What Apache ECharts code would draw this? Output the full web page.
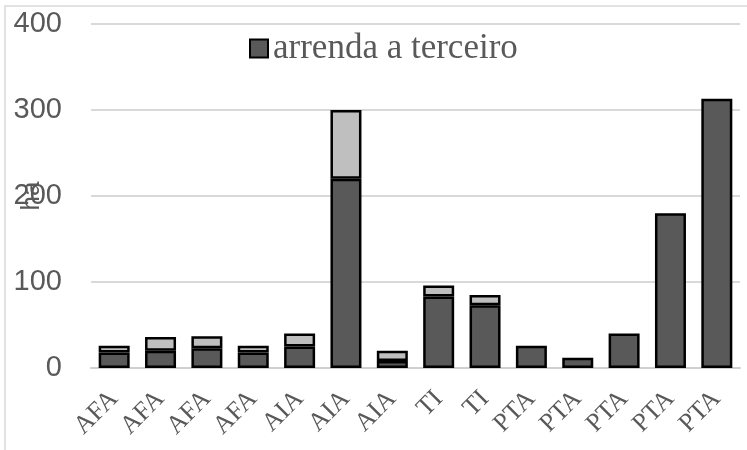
<!DOCTYPE html>
<html>
<head>
<meta charset="utf-8">
<script src="https://cdn.jsdelivr.net/npm/echarts@6/dist/echarts.min.js"></script>
<style>
  html, body { margin: 0; padding: 0; background: #fff; }
  #chart { width: 747px; height: 450px; }
</style>
</head>
<body>
<div id="chart"></div>
<script>
// dados
const categories = ['AFA', 'AFA', 'AFA', 'AFA', 'AIA', 'AIA', 'AIA', 'TI', 'TI', 'PTA', 'PTA', 'PTA', 'PTA', 'PTA'];
const arrendaTerceiro = [18, 20, 23, 18, 25, 220, 8, 83, 73, 26, 12, 40, 180, 313];
const outraParte = [8, 16, 14, 8, 15, 80, 12, 13, 12, 0, 0, 0, 0, 0];

const chart = echarts.init(document.getElementById('chart'));

const option = {
  animation: false,
  backgroundColor: '#fff',
  graphic: [{
    type: 'rect',
    shape: { x: 5, y: 6, width: 760, height: 460 },
    style: { fill: 'none', stroke: '#d9d9d9', lineWidth: 1.5 },
    silent: true
  }],
  legend: {
    data: [{ name: 'arrenda a terceiro', icon: 'rect' }],
    left: 244,
    top: 26,
    itemWidth: 18,
    itemHeight: 18,
    itemGap: 6,
    textStyle: {
      fontFamily: 'Liberation Serif',
      fontSize: 35,
      color: '#595959'
    }
  },
  grid: {
    left: 91,
    right: 7,
    top: 24,
    bottom: 82,
    outerBoundsMode: 'none'
  },
  xAxis: {
    type: 'category',
    data: categories,
    axisTick: { show: false },
    axisLine: { lineStyle: { color: '#d0d0d0', width: 2 } },
    axisLabel: {
      rotate: 45,
      margin: 27,
      fontFamily: 'Liberation Serif',
      fontSize: 26,
      color: '#595959',
      interval: 0
    }
  },
  yAxis: {
    type: 'value',
    min: 0,
    max: 400,
    interval: 100,
    name: 'ha',
    nameLocation: 'middle',
    nameRotate: 90,
    nameGap: 46,
    nameMoveOverlap: false,
    nameTextStyle: {
      fontFamily: 'Liberation Sans',
      fontSize: 26,
      color: '#595959'
    },
    axisLine: { show: false },
    axisTick: { show: false },
    axisLabel: {
      margin: 29,
      fontFamily: 'Liberation Sans',
      fontSize: 29,
      color: '#595959'
    },
    splitLine: { lineStyle: { color: '#d9d9d9', width: 2 } }
  },
  series: [
    {
      name: 'arrenda a terceiro',
      type: 'bar',
      stack: 'total',
      data: arrendaTerceiro,
      barWidth: 31,
      itemStyle: { color: '#595959', borderColor: '#000', borderWidth: 2.5 }
    },
    {
      name: 'outro',
      type: 'bar',
      stack: 'total',
      // zeros sem segmento visível
      data: outraParte.map(v => (v === 0 ? null : v)),
      barWidth: 31,
      itemStyle: { color: '#bfbfbf', borderColor: '#000', borderWidth: 2.5 }
    }
  ]
};

chart.setOption(option);
</script>
</body>
</html>
